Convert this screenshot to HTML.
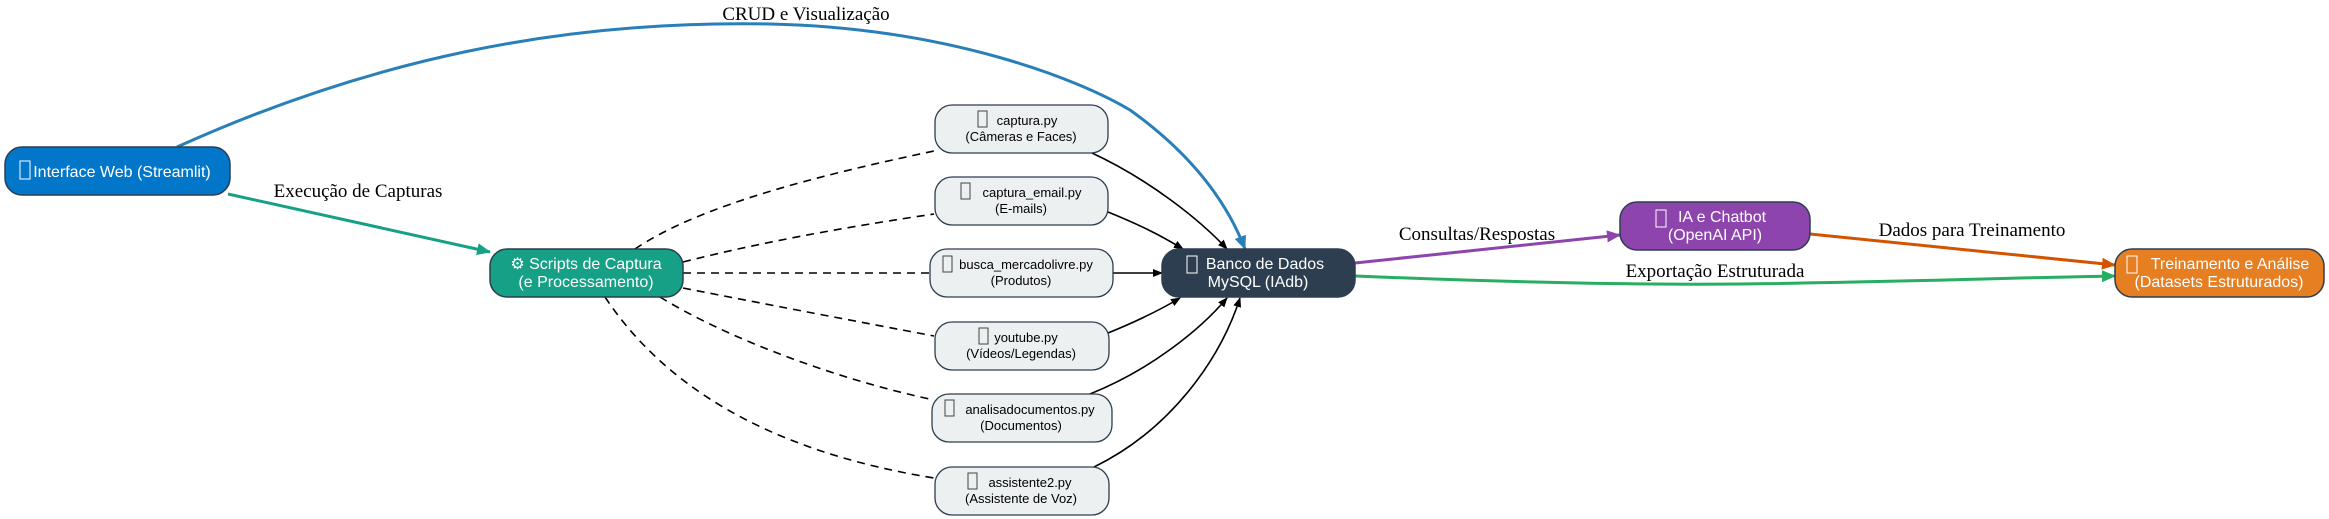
<!DOCTYPE html>
<html><head><meta charset="utf-8"><style>
html,body{margin:0;padding:0;background:#fff;}
svg{display:block;}
.n{font-family:"Liberation Sans",sans-serif;}
.l{font-family:"Liberation Serif",serif;font-size:19px;fill:#000;}
</style></head><body>
<svg width="2329" height="519" viewBox="0 0 2329 519" xmlns="http://www.w3.org/2000/svg">
<defs>
<marker id="mk" markerWidth="10" markerHeight="8" refX="9" refY="4" orient="auto" markerUnits="userSpaceOnUse"><path d="M0,0 L10,4 L0,8z" fill="#000"/></marker>
<marker id="mb" markerWidth="14" markerHeight="12" refX="13" refY="6" orient="auto" markerUnits="userSpaceOnUse"><path d="M0,0 L14,6 L0,12z" fill="#2980b9"/></marker>
<marker id="mg" markerWidth="14" markerHeight="12" refX="13" refY="6" orient="auto" markerUnits="userSpaceOnUse"><path d="M0,0 L14,6 L0,12z" fill="#16a085"/></marker>
<marker id="mp" markerWidth="14" markerHeight="12" refX="13" refY="6" orient="auto" markerUnits="userSpaceOnUse"><path d="M0,0 L14,6 L0,12z" fill="#8e44ad"/></marker>
<marker id="mo" markerWidth="14" markerHeight="12" refX="13" refY="6" orient="auto" markerUnits="userSpaceOnUse"><path d="M0,0 L14,6 L0,12z" fill="#d35400"/></marker>
<marker id="me" markerWidth="14" markerHeight="12" refX="13" refY="6" orient="auto" markerUnits="userSpaceOnUse"><path d="M0,0 L14,6 L0,12z" fill="#27ae60"/></marker>
</defs>

<!-- edges -->
<path d="M177,147 C370,60 560,20 770,24 C950,28 1080,80 1130,110 C1200,160 1230,210 1245,249" fill="none" stroke="#2980b9" stroke-width="3" marker-end="url(#mb)"/>
<text class="l" x="806" y="20" text-anchor="middle">CRUD e Visualização</text>
<path d="M228,194 L490,252" stroke="#16a085" stroke-width="3" marker-end="url(#mg)"/>
<text class="l" x="358" y="197" text-anchor="middle">Execução de Capturas</text>

<g fill="none" stroke="#000" stroke-width="1.6" stroke-dasharray="8,6">
<path d="M635,249 C700,205 820,175 934,151"/>
<path d="M683,262 C770,240 860,225 934,214"/>
<path d="M683,273 L930,273"/>
<path d="M683,288 C770,305 860,322 934,336"/>
<path d="M660,297 C730,340 840,380 934,400"/>
<path d="M605,297 C660,380 760,450 934,478"/>
</g>
<g fill="none" stroke="#000" stroke-width="1.6" marker-end="url(#mk)">
<path d="M1092,153 C1150,180 1200,220 1227,249"/>
<path d="M1108,212 C1140,225 1160,235 1183,249"/>
<path d="M1112,273 L1162,273"/>
<path d="M1108,333 C1140,320 1160,310 1180,298"/>
<path d="M1090,394 C1150,370 1200,330 1227,298"/>
<path d="M1094,467 C1170,430 1220,360 1240,298"/>
</g>

<path d="M1355,263 L1620,235" stroke="#8e44ad" stroke-width="3" marker-end="url(#mp)"/>
<text class="l" x="1477" y="240" text-anchor="middle">Consultas/Respostas</text>
<path d="M1810,234 L2115,265" stroke="#d35400" stroke-width="3" marker-end="url(#mo)"/>
<text class="l" x="1972" y="236" text-anchor="middle">Dados para Treinamento</text>
<path d="M1355,276 C1500,282 1640,285 1740,284 C1900,282 2000,278 2115,276" fill="none" stroke="#27ae60" stroke-width="3" marker-end="url(#me)"/>
<text class="l" x="1715" y="277" text-anchor="middle">Exportação Estruturada</text>

<!-- main nodes -->
<g class="n" font-size="16" text-anchor="middle" fill="#fff">
<rect x="5" y="147" width="225" height="48" rx="17" fill="#0277c9" stroke="#2c3e50" stroke-width="1.5"/>
<rect x="20" y="161" width="10" height="18" fill="none" stroke="#fff" stroke-width="1"/>
<text x="122" y="177">Interface Web (Streamlit)</text>

<rect x="490" y="249" width="193" height="48" rx="17" fill="#16a085" stroke="#2c3e50" stroke-width="1.5"/>
<text x="586" y="269">⚙ Scripts de Captura</text>
<text x="586" y="287">(e Processamento)</text>

<rect x="1162" y="249" width="193" height="48" rx="17" fill="#2c3e50" stroke="#2c3e50" stroke-width="1.5"/>
<rect x="1187" y="256" width="10" height="17" fill="none" stroke="#fff" stroke-width="1"/>
<text x="1265" y="269">Banco de Dados</text>
<text x="1258" y="287">MySQL (IAdb)</text>

<rect x="1620" y="202" width="190" height="48" rx="17" fill="#8e44ad" stroke="#2c3e50" stroke-width="1.5"/>
<rect x="1656" y="210" width="10" height="17" fill="none" stroke="#fff" stroke-width="1"/>
<text x="1722" y="222">IA e Chatbot</text>
<text x="1715" y="240">(OpenAI API)</text>

<rect x="2115" y="249" width="209" height="48" rx="17" fill="#e67e22" stroke="#2c3e50" stroke-width="1.5"/>
<rect x="2127" y="256" width="10" height="17" fill="none" stroke="#fff" stroke-width="1"/>
<text x="2230" y="269">Treinamento e Análise</text>
<text x="2219" y="287">(Datasets Estruturados)</text>
</g>

<!-- script nodes -->
<g class="n" font-size="13" text-anchor="middle" fill="#000">
<rect x="935" y="105" width="173" height="48" rx="17" fill="#ecf0f1" stroke="#2c3e50" stroke-width="1.3"/>
<rect x="978" y="111" width="9" height="16" fill="none" stroke="#444" stroke-width="1"/>
<text x="1027" y="125">captura.py</text><text x="1021" y="141">(Câmeras e Faces)</text>

<rect x="935" y="177" width="173" height="48" rx="17" fill="#ecf0f1" stroke="#2c3e50" stroke-width="1.3"/>
<rect x="961" y="183" width="9" height="16" fill="none" stroke="#444" stroke-width="1"/>
<text x="1032" y="197">captura_email.py</text><text x="1021" y="213">(E-mails)</text>

<rect x="930" y="249" width="183" height="48" rx="17" fill="#ecf0f1" stroke="#2c3e50" stroke-width="1.3"/>
<rect x="943" y="256" width="9" height="16" fill="none" stroke="#444" stroke-width="1"/>
<text x="1026" y="269">busca_mercadolivre.py</text><text x="1021" y="285">(Produtos)</text>

<rect x="935" y="322" width="174" height="48" rx="17" fill="#ecf0f1" stroke="#2c3e50" stroke-width="1.3"/>
<rect x="979" y="328" width="9" height="16" fill="none" stroke="#444" stroke-width="1"/>
<text x="1026" y="342">youtube.py</text><text x="1021" y="358">(Vídeos/Legendas)</text>

<rect x="932" y="394" width="180" height="48" rx="17" fill="#ecf0f1" stroke="#2c3e50" stroke-width="1.3"/>
<rect x="945" y="400" width="9" height="16" fill="none" stroke="#444" stroke-width="1"/>
<text x="1030" y="414">analisadocumentos.py</text><text x="1021" y="430">(Documentos)</text>

<rect x="935" y="467" width="174" height="48" rx="17" fill="#ecf0f1" stroke="#2c3e50" stroke-width="1.3"/>
<rect x="968" y="473" width="9" height="16" fill="none" stroke="#444" stroke-width="1"/>
<text x="1030" y="487">assistente2.py</text><text x="1021" y="503">(Assistente de Voz)</text>
</g>
</svg>
</body></html>
